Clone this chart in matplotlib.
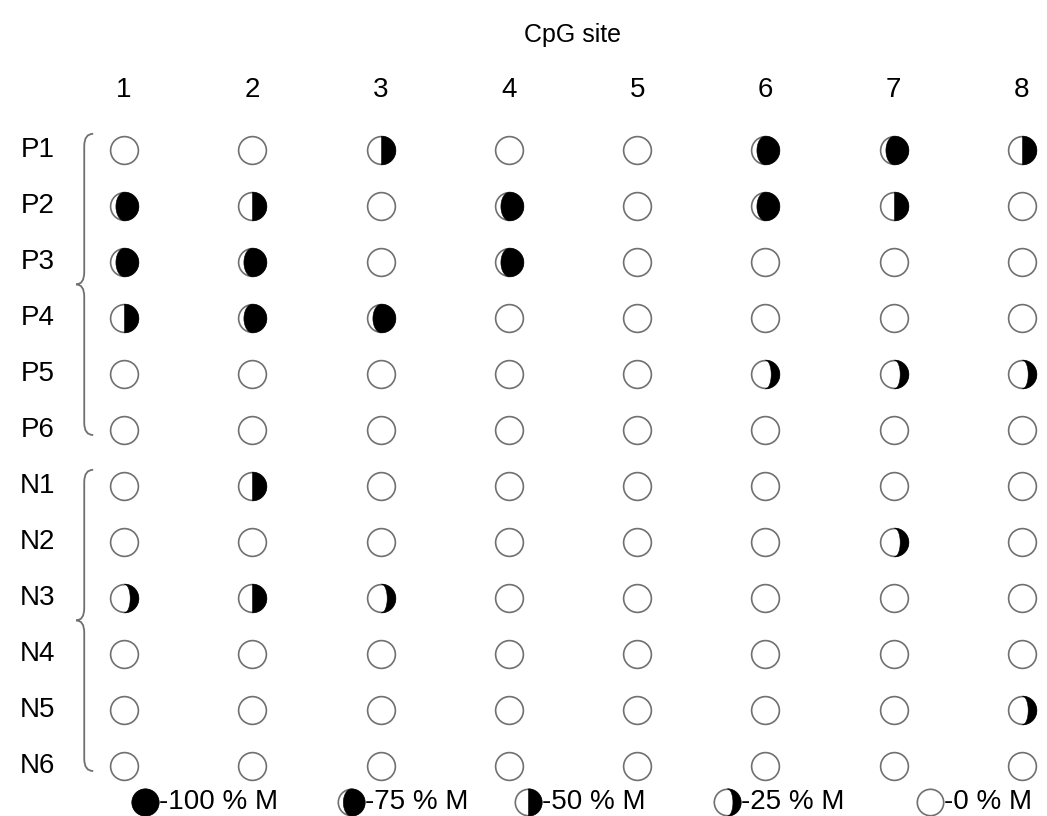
"""Methylation status of 8 CpG sites in P/N samples, drawn as moon glyphs."""

import numpy as np
import matplotlib
matplotlib.use("Agg")
import matplotlib.pyplot as plt
from matplotlib.path import Path
from matplotlib.patches import PathPatch
from matplotlib import transforms

plt.rcParams["font.family"] = ["Liberation Sans", "DejaVu Sans"]

sites = [1, 2, 3, 4, 5, 6, 7, 8]
samples = ["P1", "P2", "P3", "P4", "P5", "P6", "N1", "N2", "N3", "N4", "N5", "N6"]
# percent methylation per sample (rows) and CpG site (columns)
methylation = [
    [0, 0, 50, 0, 0, 75, 75, 50],
    [75, 50, 0, 75, 0, 75, 50, 0],
    [75, 75, 0, 75, 0, 0, 0, 0],
    [50, 75, 75, 0, 0, 0, 0, 0],
    [0, 0, 0, 0, 0, 25, 25, 25],
    [0, 0, 0, 0, 0, 0, 0, 0],
    [0, 50, 0, 0, 0, 0, 0, 0],
    [0, 0, 0, 0, 0, 0, 25, 0],
    [25, 50, 25, 0, 0, 0, 0, 0],
    [0, 0, 0, 0, 0, 0, 0, 0],
    [0, 0, 0, 0, 0, 0, 0, 25],
    [0, 0, 0, 0, 0, 0, 0, 0],
]
groups = [("P", 0, 5), ("N", 6, 11)]
legend_levels = [100, 75, 50, 25, 0]

# where the shadow edge sits (fraction of radius, + = bulges right)
TERMINATOR = {25: 0.4, 50: 0.0, 75: -0.6}


def moon_marker(pct):
    if pct >= 100:
        return "o"
    k = TERMINATOR[pct]
    t1 = np.linspace(np.pi / 2, -np.pi / 2, 60)
    t2 = np.linspace(-np.pi / 2, np.pi / 2, 60)
    xs = np.concatenate([np.cos(t1), k * np.cos(t2)])
    ys = np.concatenate([np.sin(t1), np.sin(t2)])
    verts = np.column_stack([xs, ys])
    codes = [Path.MOVETO] + [Path.LINETO] * (len(verts) - 1)
    return Path(verts, codes)


def draw_glyph(ax, x, y, pct, ms=20, **kw):
    ax.plot(x, y, marker="o", ms=ms, mfc="white", mec="#707070", mew=1.2, ls="none", **kw)
    if pct > 0:
        ax.plot(x, y, marker=moon_marker(pct), ms=ms + 0.6, mfc="black", mec="black",
                mew=0.4, ls="none", **kw)


W, H = 1047, 816
fig = plt.figure(figsize=(W / 100, H / 100), dpi=100)
ax = fig.add_axes([0, 0, 1, 1])
ax.set_axis_off()

# pixel anchors of first/last site and first/last sample
x0, x1 = 124, 1022
y0, y1 = 150, 766
dx = (x1 - x0) / (len(sites) - 1)
dy = (y1 - y0) / (len(samples) - 1)
ax.set_xlim(sites[0] - x0 / dx, sites[-1] + (W - x1) / dx)
ax.set_ylim(len(samples) - 1 + (H - y1) / dy, -y0 / dy)

mat = np.array(methylation)
for i, name in enumerate(samples):
    for j, site in enumerate(sites):
        draw_glyph(ax, site, i, mat[i, j])

for site in sites:
    ax.text(site, -1.08, str(site), ha="center", va="center", fontsize=20)
ax.text(0.547, 1 - 35 / H, "CpG site", transform=fig.transFigure, ha="center",
        va="center", fontsize=18)

label_tr = transforms.blended_transform_factory(fig.transFigure, ax.transData)
for i, name in enumerate(samples):
    ax.text(0.036, i, name, transform=label_tr, ha="center", va="center", fontsize=20)

# curly braces grouping P and N samples
xv, xt, xe = 0.69, 0.627, 0.76
for _, top, bot in groups:
    top_y, bot_y = top - 0.29, bot + 0.09
    mid = (top_y + bot_y) / 2
    c = 0.22
    verts = [
        (xe, top_y), (xv, top_y), (xv, top_y + c),
        (xv, mid - c), (xv, mid), (xt, mid),
        (xv, mid), (xv, mid + c),
        (xv, bot_y - c), (xv, bot_y), (xe, bot_y),
    ]
    codes = [Path.MOVETO, Path.CURVE3, Path.CURVE3,
             Path.LINETO, Path.CURVE3, Path.CURVE3,
             Path.CURVE3, Path.CURVE3,
             Path.LINETO, Path.CURVE3, Path.CURVE3]
    ax.add_patch(PathPatch(Path(verts, codes), fill=False, ec="#707070", lw=1.3))

# legend row along the bottom
legend_x = [145, 351, 528, 727, 930]
legend_y = 1 - 802 / H
for px, pct in zip(legend_x, legend_levels):
    draw_glyph(ax, px / W, legend_y, pct, ms=19, transform=fig.transFigure)
    tr = transforms.offset_copy(fig.transFigure, fig=fig, x=14, y=0, units="dots")
    ax.text(px / W, legend_y, f"-{pct} % M", transform=tr, ha="left", va="center", fontsize=20)

fig.savefig("out.png", dpi=100)
